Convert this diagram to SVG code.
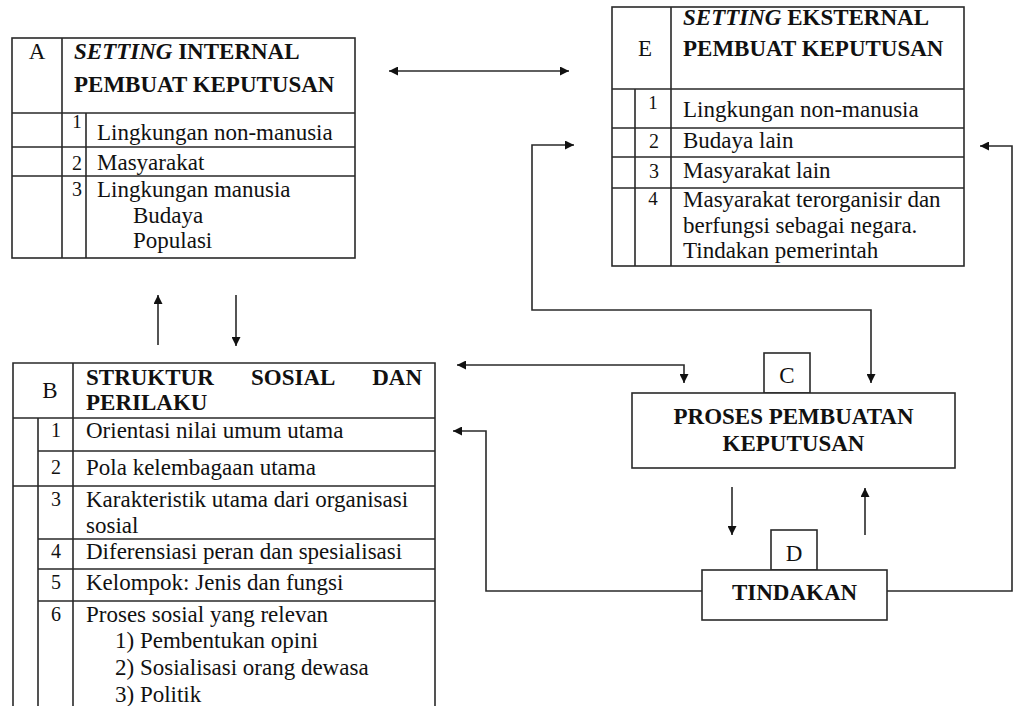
<svg xmlns="http://www.w3.org/2000/svg" width="1014" height="706" viewBox="0 0 1014 706">
<style>
.bg{fill:#ffffff}
.box{fill:#ffffff;stroke:#2a2a2a;stroke-width:1.6}
.ln{fill:none;stroke:#2a2a2a;stroke-width:1.6}
.t{font-family:"Liberation Serif","Times New Roman",serif;font-size:23px;fill:#111}
.h{font-family:"Liberation Serif","Times New Roman",serif;font-size:23px;font-weight:bold;fill:#111}
.n{font-family:"Liberation Serif","Times New Roman",serif;font-size:20px;fill:#111;text-anchor:middle}
.s{font-family:"Liberation Serif","Times New Roman",serif;font-size:19px;fill:#111;text-anchor:middle}
.c{text-anchor:middle}
.conn{fill:none;stroke:#2a2a2a;stroke-width:1.6}
</style>
<defs>
<marker id="ah" viewBox="0 0 10 10" refX="10" refY="5" markerWidth="11" markerHeight="9" markerUnits="userSpaceOnUse" orient="auto-start-reverse">
<path d="M0,0 L10,5 L0,10 z" fill="#111"/>
</marker>
</defs>
<rect class="bg" x="0" y="0" width="1014" height="706"/>

<g id="nodeA">
<rect class="box" x="12" y="38" width="343" height="220"/>
<path class="ln" d="M62,38 V258 M86,113 V258 M12,113 H355 M12,147 H355 M12,176 H355"/>
<text class="t" x="37" y="59" text-anchor="middle">A</text>
<text class="h" x="74" y="59"><tspan font-style="italic">SETTING</tspan> INTERNAL</text>
<text class="h" x="74" y="92">PEMBUAT KEPUTUSAN</text>
<text class="s" x="77" y="128">1</text>
<text class="t" x="97" y="140">Lingkungan non-manusia</text>
<text class="n" x="77" y="170">2</text>
<text class="t" x="97" y="170">Masyarakat</text>
<text class="n" x="77" y="196">3</text>
<text class="t" x="97" y="197">Lingkungan manusia</text>
<text class="t" x="133" y="223">Budaya</text>
<text class="t" x="133" y="248">Populasi</text>
</g>

<g id="nodeE">
<rect class="box" x="612" y="7" width="352" height="259"/>
<path class="ln" d="M671,7 V266 M635,89 V266 M612,89 H964 M612,128 H964 M612,157 H964 M612,188 H964"/>
<text class="t" x="645" y="56" text-anchor="middle">E</text>
<text class="h" x="683" y="25"><tspan font-style="italic">SETTING</tspan> EKSTERNAL</text>
<text class="h" x="683" y="56">PEMBUAT KEPUTUSAN</text>
<text class="s" x="653" y="109">1</text>
<text class="t" x="683" y="117">Lingkungan non-manusia</text>
<text class="n" x="654" y="148">2</text>
<text class="t" x="683" y="148">Budaya lain</text>
<text class="n" x="654" y="178">3</text>
<text class="t" x="683" y="178">Masyarakat lain</text>
<text class="s" x="653" y="205">4</text>
<text class="t" x="683" y="207">Masyarakat terorganisir dan</text>
<text class="t" x="683" y="233">berfungsi sebagai negara.</text>
<text class="t" x="683" y="258">Tindakan pemerintah</text>
</g>

<g id="nodeB">
<path class="box" d="M13,707 V363 H435 V707"/>
<path class="ln" d="M73,363 V707 M38,418 V707 M13,418 H435 M38,451 H435 M13,486 H435 M38,539 H435 M38,569 H435 M38,601 H435"/>
<text class="t" x="50" y="398" text-anchor="middle">B</text>
<text class="h" x="86" y="385">STRUKTUR</text>
<text class="h" x="251" y="385">SOSIAL</text>
<text class="h" x="422" y="385" text-anchor="end">DAN</text>
<text class="h" x="86" y="410">PERILAKU</text>
<text class="n" x="56" y="437">1</text>
<text class="t" x="86" y="438">Orientasi nilai umum utama</text>
<text class="n" x="56" y="474">2</text>
<text class="t" x="86" y="475">Pola kelembagaan utama</text>
<text class="n" x="56" y="506">3</text>
<text class="t" x="86" y="507">Karakteristik utama dari organisasi</text>
<text class="t" x="86" y="533">sosial</text>
<text class="n" x="56" y="558">4</text>
<text class="t" x="86" y="559">Diferensiasi peran dan spesialisasi</text>
<text class="n" x="56" y="589">5</text>
<text class="t" x="86" y="590">Kelompok: Jenis dan fungsi</text>
<text class="n" x="56" y="621">6</text>
<text class="t" x="86" y="622">Proses sosial yang relevan</text>
<text class="t" x="115" y="648">1) Pembentukan opini</text>
<text class="t" x="115" y="675">2) Sosialisasi orang dewasa</text>
<text class="t" x="115" y="702">3) Politik</text>
</g>

<g id="nodeC">
<rect class="box" x="764" y="353" width="46" height="40"/>
<rect class="box" x="632" y="393" width="323" height="75"/>
<text class="t c" x="787" y="383">C</text>
<text class="h c" x="793.5" y="424">PROSES PEMBUATAN</text>
<text class="h c" x="793.5" y="451">KEPUTUSAN</text>
</g>

<g id="nodeD">
<rect class="box" x="771" y="530" width="46" height="40"/>
<rect class="box" x="702" y="570" width="185" height="50"/>
<text class="t c" x="794" y="561">D</text>
<text class="h c" x="794.5" y="600">TINDAKAN</text>
</g>

<g id="connectors">
<path class="conn" d="M389,71 H569" marker-start="url(#ah)" marker-end="url(#ah)"/>
<path class="conn" d="M158,345 V295" marker-end="url(#ah)"/>
<path class="conn" d="M236,295 V346" marker-end="url(#ah)"/>
<path class="conn" d="M574,145 H532 V310 H871 V383" marker-start="url(#ah)" marker-end="url(#ah)"/>
<path class="conn" d="M457,365 H684 V383" marker-start="url(#ah)" marker-end="url(#ah)"/>
<path class="conn" d="M702,591 H486 V431 H453" marker-end="url(#ah)"/>
<path class="conn" d="M887,591 H1012 V146 H980" marker-end="url(#ah)"/>
<path class="conn" d="M732,487 V535" marker-end="url(#ah)"/>
<path class="conn" d="M865,535 V488" marker-end="url(#ah)"/>
</g>
</svg>
